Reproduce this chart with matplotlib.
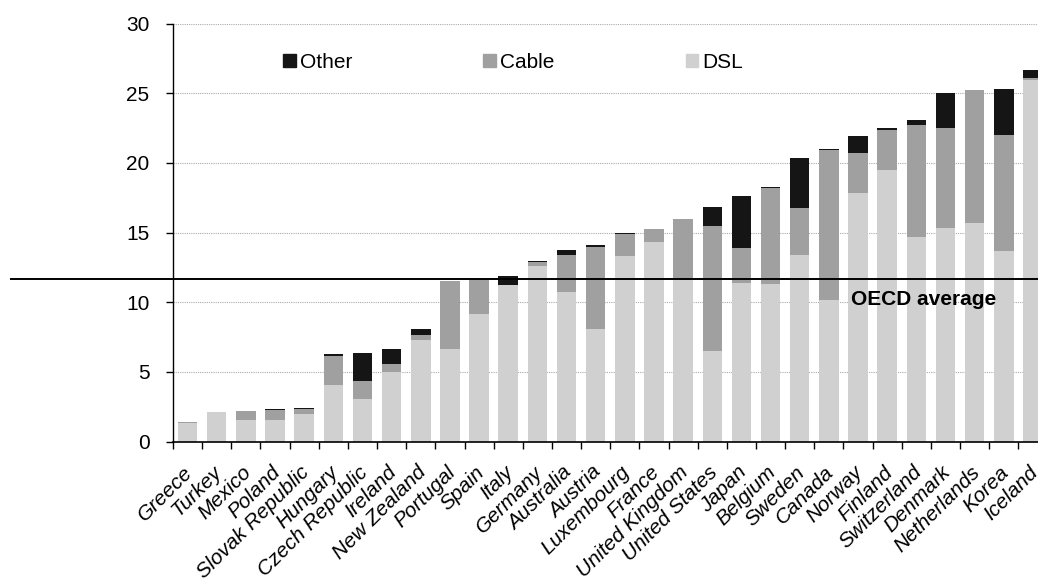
import numpy as np
import matplotlib
matplotlib.use("Agg")
import matplotlib.pyplot as plt
from matplotlib.patches import Patch
from matplotlib.transforms import ScaledTranslation

#data
countries = ["Greece", "Turkey", "Mexico", "Poland", "Slovak Republic", "Hungary",
             "Czech Republic", "Ireland", "New Zealand", "Portugal", "Spain", "Italy",
             "Germany", "Australia", "Austria", "Luxembourg", "France", "United Kingdom",
             "United States", "Japan", "Belgium", "Sweden", "Canada", "Norway", "Finland",
             "Switzerland", "Denmark", "Netherlands", "Korea", "Iceland"]
dsl = [1.35, 2.10, 1.52, 1.59, 1.96, 4.07, 3.04, 4.97, 7.27, 6.62, 9.18, 11.25,
       12.58, 10.76, 8.10, 13.32, 14.32, 11.57, 6.48, 11.38, 11.31, 13.37, 10.16,
       17.84, 19.49, 14.68, 15.30, 15.69, 13.65, 25.94]
cable = [0.05, 0.02, 0.68, 0.68, 0.36, 2.08, 1.34, 0.63, 0.41, 4.88, 2.47, 0.02,
         0.31, 2.63, 5.84, 1.55, 0.94, 4.40, 8.99, 2.49, 6.90, 3.42, 10.74,
         2.89, 2.87, 8.01, 7.22, 9.54, 8.35, 0.12]
other = [0.0, 0.0, 0.03, 0.05, 0.12, 0.16, 1.96, 1.07, 0.40, 0.0, 0.0, 0.60,
         0.07, 0.38, 0.17, 0.07, 0.0, 0.0, 1.36, 3.75, 0.05, 3.54, 0.10,
         1.17, 0.12, 0.36, 2.47, 0.0, 3.32, 0.60]
oecd_avg = 11.69

#colours
C_DSL = "#d0d0d0"
C_CABLE = "#a0a0a0"
C_OTHER = "#151515"

plt.rcParams["font.family"] = ["Liberation Sans", "DejaVu Sans"]
plt.rcParams["font.size"] = 15

fig = plt.figure(figsize=(10.38, 5.82), dpi=100)
# plot area runs a little past the right edge, like the original
ax = fig.add_axes([173 / 1038, 0.2411, 874.5 / 1038, 0.7185])

x = np.arange(len(countries))
dsl_a = np.array(dsl)
cable_a = np.array(cable)
other_a = np.array(other)
w = 0.67

ax.bar(x, dsl_a, w, color=C_DSL, zorder=2)
ax.bar(x, cable_a, w, bottom=dsl_a, color=C_CABLE, zorder=2)
ax.bar(x, other_a, w, bottom=dsl_a + cable_a, color=C_OTHER, zorder=2)

ax.set_xlim(-0.5, len(countries) - 0.5)
ax.set_ylim(0, 30)
ax.set_yticks(np.arange(0, 31, 5))

#grid
ax.yaxis.grid(True, linestyle=(0, (1, 1)), color="#aaaaaa", linewidth=0.8)
ax.set_axisbelow(True)

for s in ["top", "right"]:
    ax.spines[s].set_visible(False)
ax.spines["left"].set_linewidth(1.0)
ax.spines["bottom"].set_linewidth(1.2)

ax.tick_params(axis="y", length=5, width=1, pad=12)

#x ticks: labels at centres, tick marks at boundaries
ax.set_xticks(x)
ax.set_xticklabels(countries, rotation=45, ha="right", fontstyle="italic")
ax.set_xticks(np.arange(len(countries) + 1) - 0.5, minor=True)
ax.tick_params(axis="x", which="major", length=0, pad=15)
ax.tick_params(axis="x", which="minor", length=5, width=1)
shift = ScaledTranslation(9 / 100, 0, fig.dpi_scale_trans)
for lab in ax.get_xticklabels():
    lab.set_transform(lab.get_transform() + shift)

#OECD average line, reaching out to the left edge
ax.axhline(oecd_avg, xmin=-0.185, xmax=1, color="black", linewidth=1.4,
           clip_on=False, zorder=3)
ax.text(22.76, 9.8, "OECD average", fontsize=15, fontweight="bold",
        ha="left", va="baseline", zorder=4)

handles = [Patch(color=C_OTHER), Patch(color=C_CABLE), Patch(color=C_DSL)]
fig.legend(handles, ["Other", "Cable", "DSL"], loc="center left",
           bbox_to_anchor=(283 / 1038, 1 - 62 / 582), ncol=3, frameon=False,
           borderpad=0, borderaxespad=0, handlelength=0.6, handleheight=0.6,
           handletextpad=0.2, columnspacing=6.3, fontsize=15)

fig.savefig("out.png", dpi=100)
